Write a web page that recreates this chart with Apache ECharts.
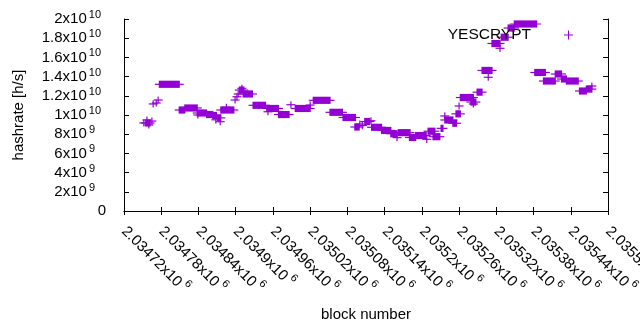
<!DOCTYPE html>
<html><head><meta charset="utf-8">
<script src="https://cdn.jsdelivr.net/npm/echarts@6/dist/echarts.min.js"></script>
<style>html,body{margin:0;padding:0;background:#fff}#c{width:640px;height:330px}</style>
</head><body><div id="c"></div>
<script>
// Each run of consecutive blocks sharing one hashrate estimate: [start block, end block, value]
const segStart = [2034752,2034755,2034757,2034760,2034765,2034767,2034772,2034775,2034777,2034809,2034818,2034838,2034839,2034853,2034863,2034868,2034871,2034875,2034876,2034885,2034899,2034902,2034904,2034906,2034910,2034912,2034928,2034950,2034952,2034969,2034989,2034996,2035020,2035025,2035052,2035073,2035092,2035100,2035104,2035108,2035118,2035119,2035135,2035150,2035160,2035162,2035180,2035190,2035208,2035210,2035218,2035231,2035237,2035237,2035250,2035255,2035260,2035262,2035279,2035283,2035289,2035297,2035307,2035313,2035326,2035328,2035339,2035349,2035382,2035396,2035415,2035425,2035433,2035454,2035465,2035474];
const segEnd   = [2034752,2034762,2034757,2034760,2034765,2034767,2034772,2034775,2034809,2034818,2034838,2034853,2034839,2034863,2034869,2034868,2034876,2034875,2034897,2034885,2034899,2034902,2034904,2034913,2034910,2034927,2034948,2034969,2034952,2034986,2034989,2035020,2035020,2035052,2035072,2035093,2035099,2035100,2035104,2035116,2035118,2035135,2035150,2035160,2035160,2035181,2035190,2035207,2035208,2035221,2035229,2035234,2035237,2035250,2035256,2035262,2035260,2035283,2035287,2035283,2035297,2035313,2035307,2035326,2035326,2035339,2035349,2035385,2035399,2035415,2035425,2035433,2035452,2035465,2035474,2035474];
const segValue = [9.17e9,9.17e9,9.48e9,8.96e9,9.37e9,1.115e10,1.125e10,1.156e10,1.32e10,1.052e10,1.073e10,1.021e10,1.0e10,1.005e10,9.95e9,9.5e9,9.7e9,9.3e9,1.052e10,1.08e10,1.156e10,1.19e10,1.219e10,1.26e10,1.278e10,1.219e10,1.101e10,1.068e10,1.034e10,1.005e10,1.107e10,1.068e10,1.104e10,1.153e10,1.028e10,9.74e9,8.75e9,9.06e9,8.9e9,9.32e9,9.4e9,8.72e9,8.39e9,8.05e9,7.64e9,8.16e9,7.66e9,7.86e9,7.47e9,8.31e9,7.74e9,8.61e9,9.9e9,9.48e9,9.14e9,1.012e10,1.094e10,1.182e10,1.135e10,1.115e10,1.238e10,1.464e10,1.393e10,1.745e10,1.695e10,1.81e10,1.906e10,1.948e10,1.443e10,1.354e10,1.427e10,1.375e10,1.354e10,1.25e10,1.27e10,1.302e10];
const seriesName = 'YESCRYPT';
const xAxisTitle = 'block number';
const yAxisTitle = 'hashrate [h/s]';
const xMin = 2034720, xMax = 2035500, xStep = 60;
const yMin = 0, yMax = 2e10, yStep = 2e9;

const COLOR = '#9400d3';
const FONT = '"Liberation Sans", Arial, sans-serif';

function yLabel(v) {
  if (v === 0) return '{z|0}';
  const e = Math.floor(Math.log10(v) + 1e-9);
  const m = parseFloat((v / Math.pow(10, e)).toPrecision(4));
  const cls = String(e).length > 1 ? 's2' : 's1';
  return '{b|' + m + 'x10}{' + cls + '|' + e + '}';
}
function xLabel(v) {
  const m = parseFloat((v / 1e6).toPrecision(6));
  return '{b|' + m + 'x10}{s|6}';
}
const data = segStart.map((s, i) => [s, segEnd[i], segValue[i]]);

const chart = echarts.init(document.getElementById('c'), null, {renderer: 'canvas'});
const lineStyle = {color: '#000', width: 1};
const supY = {fontSize: 11, fontFamily: FONT, color: '#000', verticalAlign: 'top', lineHeight: 10};
chart.setOption({
  animation: false,
  backgroundColor: '#fff',
  grid: {left: 124, right: 32, top: 19, bottom: 119, outerBoundsMode: 'none', containLabel: false},
  legend: {
    data: [{name: seriesName, icon: 'path://M4.45,0H5.55V4.45H10V5.55H5.55V10H4.45V5.55H0V4.45H4.45Z'}],
    align: 'right', right: 67, top: 27, itemWidth: 9, itemHeight: 9, selectedMode: false,
    padding: 0,
    formatter: n => '{t|' + n + '}{g|}',
    textStyle: {rich: {t: {fontSize: 15.5, fontFamily: FONT, color: '#000'}, g: {width: 28}}}
  },
  xAxis: [{
    type: 'value', min: xMin, max: xMax, interval: xStep, position: 'bottom',
    name: xAxisTitle, nameLocation: 'middle', nameGap: 96,
    nameTextStyle: {fontSize: 15, fontFamily: FONT, color: '#000'},
    axisLine: {show: true, lineStyle}, splitLine: {show: false},
    axisTick: {show: true, inside: true, length: 4, lineStyle},
    axisLabel: {
      rotate: -45, margin: 18, formatter: xLabel, color: '#000',
      showMinLabel: true, showMaxLabel: true,
      rich: {
        b: {fontSize: 15, fontFamily: FONT, color: '#000', lineHeight: 24},
        s: {fontSize: 11, fontFamily: FONT, color: '#000', verticalAlign: 'top', lineHeight: 13, padding: [0, 0, 0, 3]}
      }
    }
  }, {
    type: 'value', min: xMin, max: xMax, interval: xStep, position: 'top',
    axisLine: {show: true, lineStyle}, splitLine: {show: false},
    axisTick: {show: true, inside: true, length: 4, lineStyle}, axisLabel: {show: false}
  }],
  yAxis: [{
    type: 'value', min: yMin, max: yMax, interval: yStep, position: 'left',
    name: yAxisTitle, nameLocation: 'middle', nameGap: 98,
    nameTextStyle: {fontSize: 15, fontFamily: FONT, color: '#000'},
    axisLine: {show: true, lineStyle}, splitLine: {show: false},
    axisTick: {show: true, inside: true, length: 5, lineStyle},
    axisLabel: {
      margin: 18, formatter: yLabel, color: '#000',
      showMinLabel: true, showMaxLabel: true,
      rich: {
        b: {fontSize: 15, fontFamily: FONT, color: '#000', lineHeight: 19},
        s2: Object.assign({padding: [0, 5, 0, 2]}, supY),
        s1: Object.assign({padding: [0, 11, 0, 2]}, supY),
        z: {fontSize: 15, fontFamily: FONT, color: '#000', lineHeight: 19}
      }
    }
  }, {
    type: 'value', min: yMin, max: yMax, interval: yStep, position: 'right',
    axisLine: {show: true, lineStyle}, splitLine: {show: false},
    axisTick: {show: true, inside: true, length: 5, lineStyle}, axisLabel: {show: false}
  }],
  series: [{
    name: seriesName, type: 'custom', xAxisIndex: 0, yAxisIndex: 0,
    itemStyle: {color: COLOR},
    encode: {x: [0, 1], y: 2},
    data: data,
    renderItem: function (params, api) {
      const p0 = api.coord([api.value(0), api.value(2)]);
      const p1 = api.coord([api.value(1), api.value(2)]);
      return {
        type: 'group',
        children: [
          {type: 'rect', shape: {x: p0[0] - 0.6, y: p0[1] - 3.6, width: p1[0] - p0[0] + 1.2, height: 7.2}, style: {fill: COLOR}},
          {type: 'line', shape: {x1: p0[0] - 4.5, y1: p0[1], x2: p1[0] + 4.5, y2: p1[1]}, style: {stroke: COLOR, lineWidth: 1.2}}
        ]
      };
    }
  }]
});
</script>
</body></html>
